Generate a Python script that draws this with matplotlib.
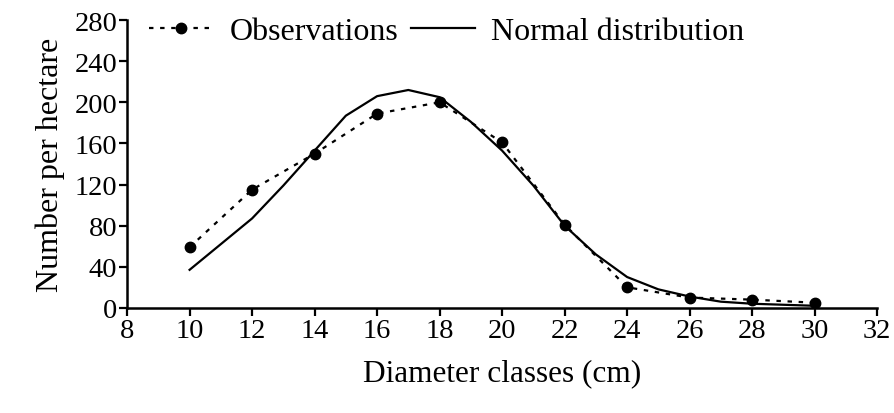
import numpy as np
import matplotlib.pyplot as plt

plt.rcParams['font.family'] = ['Liberation Serif', 'DejaVu Serif']
plt.rcParams['font.size'] = 20

# observed stems per diameter class
diam_obs = [10, 12, 14, 16, 18, 20, 22, 24, 26, 28, 30]
n_obs = [59, 115, 150, 189, 200, 161, 81, 20, 10, 8, 5]

# fitted normal distribution
diam_fit = [10, 11, 12, 13, 14, 15, 16, 17, 18, 19, 20,
            21, 22, 23, 24, 25, 26, 27, 28, 29, 30]
n_fit = [37, 62, 87, 119, 153, 187, 206, 212, 205, 181, 153,
         119, 80, 52, 30, 18, 11, 6, 4, 3, 2]

fig = plt.figure(figsize=(8.95, 4.14), dpi=100)
ax = fig.add_axes([0.142, 0.254, 0.838, 0.695])

ax.plot(diam_obs, n_obs, color='black', linestyle=(0, (2, 3)), linewidth=1.6,
        marker='o', markersize=7.5, label='Observations')
ax.plot(diam_fit, n_fit, color='black', linewidth=1.6, label='Normal distribution')

ax.set_xlim(8, 32)
ax.set_ylim(0, 280)
ax.set_xticks(np.arange(8, 33, 2))
ax.set_yticks(np.arange(0, 281, 40))
ax.spines['top'].set_visible(False)
ax.spines['right'].set_visible(False)
ax.spines['left'].set_linewidth(1.8)
ax.spines['bottom'].set_linewidth(1.8)
ax.tick_params(direction='out', length=6, width=1.6, pad=1, labelsize=20.5)

ax.set_xlabel('Diameter classes (cm)', fontsize=22.5, labelpad=11)
ax.set_ylabel('Number per hectare', fontsize=23, labelpad=7)

leg = ax.legend(loc='upper left', bbox_to_anchor=(0.0, 1.09), ncol=2, frameon=False,
                handlelength=2.0, handletextpad=0.5, columnspacing=0.4, fontsize=23,
                borderpad=0.2)

fig.savefig('out.png', dpi=100)
